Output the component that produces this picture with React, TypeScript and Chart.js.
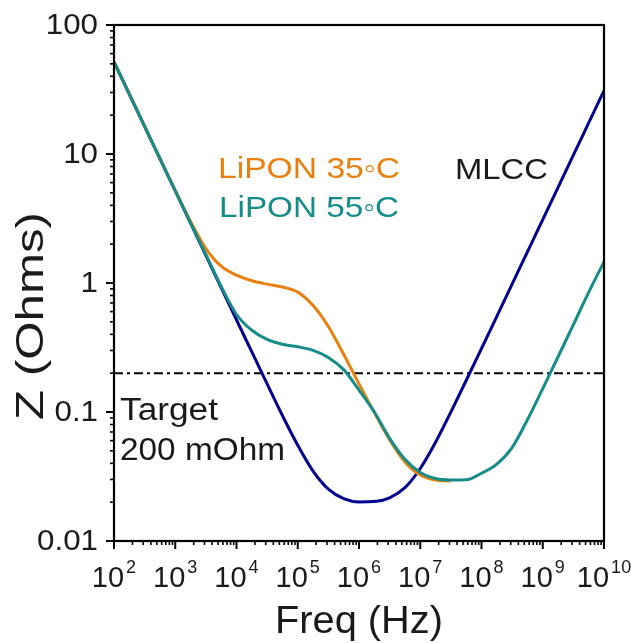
import React, { useEffect, useRef } from "react";
import { Chart, registerables } from "chart.js";

Chart.register(...registerables);

// Frequency grid (Hz): 10^2, 10^2.5, then quarter decades 10^3 ... 10^10
const freqHz = [
  1e2, 3.16e2, 1e3, 1.78e3, 3.16e3, 5.62e3, 1e4, 1.78e4, 3.16e4, 5.62e4,
  1e5, 1.78e5, 3.16e5, 5.62e5, 1e6, 1.78e6, 3.16e6, 5.62e6, 1e7, 1.78e7,
  3.16e7, 5.62e7, 1e8, 1.78e8, 3.16e8, 5.62e8, 1e9, 1.78e9, 3.16e9, 5.62e9, 1e10,
];

// MLCC impedance (Ohms)
const mlccZ = [
  51.7, 16.35, 5.17, 2.91, 1.635, 0.92, 0.517, 0.292, 0.165, 0.0939,
  0.0552, 0.0348, 0.0252, 0.0213, 0.0201, 0.0202, 0.0216, 0.0259, 0.0365, 0.0583,
  0.0999, 0.1754, 0.3106, 0.551, 0.98, 1.743, 3.1, 5.51, 9.8, 17.4, 31.0,
];

// LiPON 35 °C impedance (Ohms) – ends where it merges under the 55 °C curve
const lipon35Z = [
  51.7, 16.35, 5.2, 3.0, 1.85, 1.35, 1.15, 1.04, 0.98, 0.93,
  0.85, 0.67, 0.46, 0.28, 0.165, 0.099, 0.061, 0.041, 0.0325, 0.0297,
  0.0292,
];

// LiPON 55 °C impedance (Ohms)
const lipon55Z = [
  51.7, 16.35, 5.17, 2.92, 1.66, 0.94, 0.57, 0.43, 0.365, 0.335,
  0.32, 0.3, 0.265, 0.213, 0.148, 0.1, 0.0625, 0.043, 0.034, 0.0305,
  0.0297, 0.0298, 0.0335, 0.0395, 0.053, 0.087, 0.152, 0.268, 0.475, 0.845, 1.46,
];

// Target line
const targetFreq = [1e2, 1e10];
const targetZ = [0.2, 0.2];

// Axis ticks
const yTickValues = [0.01, 0.1, 1, 10, 100];
const yTickLabels = ["0.01", "0.1", "1", "10", "100"];
const xTickExponents = [2, 3, 4, 5, 6, 7, 8, 9, 10];

const FONT = '"Liberation Sans", Arial, Helvetica, sans-serif';
const TEXT = "#1a1a1a";
const NAVY = "#00008e";
const ORANGE = "#e8800f";
const TEAL = "#168c88";

function drawScaled(
  ctx: CanvasRenderingContext2D,
  text: string,
  x: number,
  y: number,
  size: number,
  color: string,
  align: CanvasTextAlign,
  targetW?: number,
  sxFixed?: number
) {
  ctx.save();
  ctx.font = `${size}px ${FONT}`;
  ctx.fillStyle = color;
  ctx.textAlign = align;
  ctx.textBaseline = "alphabetic";
  let sx = sxFixed ?? 1;
  if (targetW) {
    const w = ctx.measureText(text).width;
    sx = targetW / w;
  }
  ctx.translate(x, y);
  ctx.scale(sx, 1);
  ctx.fillText(text, 0, 0);
  ctx.restore();
}

const axesPlugin = {
  id: "customAxes",
  afterDraw(chart: any) {
    const ctx: CanvasRenderingContext2D = chart.ctx;
    const { left, right, top, bottom } = chart.chartArea;
    const xs = chart.scales.x;
    const ys = chart.scales.y;

    ctx.save();
    ctx.strokeStyle = "#000";
    // Frame
    ctx.lineWidth = 2.2;
    ctx.strokeRect(left, top, right - left, bottom - top);

    // Y ticks
    for (let d = 0; d < yTickValues.length; d++) {
      const v = yTickValues[d];
      const py = ys.getPixelForValue(v);
      ctx.lineWidth = 2;
      ctx.beginPath();
      ctx.moveTo(left - 8, py);
      ctx.lineTo(left, py);
      ctx.stroke();
      if (d < yTickValues.length - 1) {
        for (let k = 2; k <= 9; k++) {
          const my = ys.getPixelForValue(v * k);
          ctx.lineWidth = 1.6;
          ctx.beginPath();
          ctx.moveTo(left - 4, my);
          ctx.lineTo(left, my);
          ctx.stroke();
        }
      }
      drawScaled(ctx, yTickLabels[d], 98, py + 9, 29, TEXT, "right", undefined, 1.08);
    }

    // X ticks
    for (let i = 0; i < xTickExponents.length; i++) {
      const e = xTickExponents[i];
      const v = Math.pow(10, e);
      const px = xs.getPixelForValue(v);
      ctx.lineWidth = 2;
      ctx.beginPath();
      ctx.moveTo(px, bottom);
      ctx.lineTo(px, bottom + 8);
      ctx.stroke();
      if (i < xTickExponents.length - 1) {
        for (let k = 2; k <= 9; k++) {
          const mx = xs.getPixelForValue(v * k);
          ctx.lineWidth = 1.6;
          ctx.beginPath();
          ctx.moveTo(mx, bottom);
          ctx.lineTo(mx, bottom + 4);
          ctx.stroke();
        }
      }
      // label 10^e
      ctx.font = `29px ${FONT}`;
      const wBase = ctx.measureText("10").width;
      ctx.font = `18px ${FONT}`;
      const wExp = ctx.measureText(String(e)).width;
      const total = wBase + 2 + wExp;
      const x0 = px - total / 2;
      drawScaled(ctx, "10", x0, 587, 29, TEXT, "left");
      drawScaled(ctx, String(e), x0 + wBase + 2, 573, 18, TEXT, "left");
    }
    ctx.restore();

    // Axis titles
    drawScaled(ctx, "Freq (Hz)", 359, 633, 39, TEXT, "center", 168);
    ctx.save();
    ctx.translate(43, 316);
    ctx.rotate(-Math.PI / 2);
    ctx.font = `39px ${FONT}`;
    const wy = ctx.measureText("Z (Ohms)").width;
    ctx.scale(208 / wy, 1);
    ctx.fillStyle = TEXT;
    ctx.textAlign = "center";
    ctx.textBaseline = "alphabetic";
    ctx.fillText("Z (Ohms)", 0, 0);
    ctx.restore();

    // Annotations
    drawScaled(ctx, "LiPON 35\u25E6C", 218, 178, 30, ORANGE, "left", 182);
    drawScaled(ctx, "LiPON 55\u25E6C", 219, 217, 30, TEAL, "left", 180);
    drawScaled(ctx, "MLCC", 455, 179, 30, TEXT, "left", 93);
    drawScaled(ctx, "Target", 120, 420, 31, TEXT, "left", 98);
    drawScaled(ctx, "200 mOhm", 120, 460, 31, TEXT, "left", 165);
  },
};

export default function App() {
  const ref = useRef<HTMLCanvasElement | null>(null);

  useEffect(() => {
    if (!ref.current) return;
    const toPts = (fs: number[], zs: number[]) => zs.map((z, i) => ({ x: fs[i], y: z }));
    const chart = new Chart(ref.current, {
      type: "line",
      data: {
        datasets: [
          {
            label: "LiPON 55°C",
            data: toPts(freqHz, lipon55Z),
            borderColor: TEAL,
            borderWidth: 3,
            pointRadius: 0,
            cubicInterpolationMode: "monotone",
            order: 0,
          },
          {
            label: "LiPON 35°C",
            data: toPts(freqHz, lipon35Z),
            borderColor: ORANGE,
            borderWidth: 3,
            pointRadius: 0,
            cubicInterpolationMode: "monotone",
            order: 1,
          },
          {
            label: "MLCC",
            data: toPts(freqHz, mlccZ),
            borderColor: NAVY,
            borderWidth: 3,
            pointRadius: 0,
            cubicInterpolationMode: "monotone",
            order: 2,
          },
          {
            label: "Target 200 mOhm",
            data: toPts(targetFreq, targetZ),
            borderColor: "#000",
            borderWidth: 2,
            borderDash: [9, 4, 3, 4],
            pointRadius: 0,
            order: 3,
          },
        ],
      },
      options: {
        animation: false,
        responsive: false,
        devicePixelRatio: 1,
        layout: { padding: { left: 114, top: 25, right: 27, bottom: 102 } },
        scales: {
          x: { type: "logarithmic", min: 1e2, max: 1e10, display: false },
          y: { type: "logarithmic", min: 0.01, max: 100, display: false },
        },
        plugins: { legend: { display: false }, tooltip: { enabled: false } },
      },
      plugins: [axesPlugin],
    });
    return () => chart.destroy();
  }, []);

  return (
    <div style={{ position: "absolute", left: 0, top: 0, width: 631, height: 643, background: "#fff" }}>
      <canvas ref={ref} width={631} height={643} />
    </div>
  );
}
